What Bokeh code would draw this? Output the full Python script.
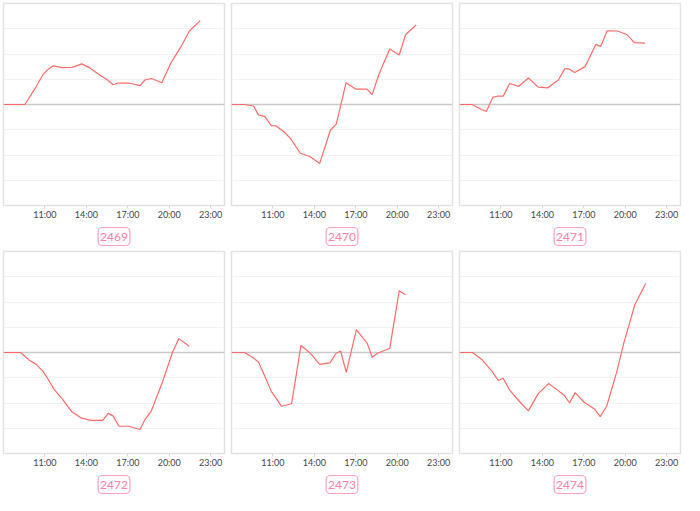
from bokeh.plotting import figure
from bokeh.layouts import gridplot
from bokeh.models import Span, FixedTicker, Title, Range1d, Grid
from bokeh.embed import file_html
from bokeh.resources import INLINE

# ---- data (hours of day, relative change) ----
names = ["2469", "2470", "2471", "2472", "2473", "2474"]

t_2469 = [8.0, 9.55, 10.37, 10.84, 11.2, 11.6, 12.25, 12.96, 13.66, 14.25, 15.07, 15.54,
          15.94, 16.29, 17.07, 17.89, 18.24, 18.71, 19.46, 20.12, 20.83, 21.46, 22.24]
v_2469 = [0, 0, 0.71, 1.17, 1.38, 1.53, 1.46, 1.47, 1.61, 1.45, 1.13, 0.97,
          0.78, 0.85, 0.85, 0.75, 0.97, 1.03, 0.86, 1.64, 2.27, 2.91, 3.32]

t_2470 = [8.0, 8.9, 9.6, 9.95, 10.42, 10.88, 11.23, 11.82, 12.28, 12.98, 13.68, 14.38,
          15.15, 15.59, 16.29, 16.99, 17.81, 18.18, 18.69, 19.46, 20.14, 20.6, 21.37]
v_2470 = [0, 0, -0.06, -0.41, -0.48, -0.84, -0.85, -1.09, -1.35, -1.93, -2.06, -2.34,
          -1.03, -0.77, 0.86, 0.61, 0.61, 0.39, 1.22, 2.2, 1.96, 2.76, 3.15]

t_2471 = [8.0, 8.89, 9.59, 9.95, 10.41, 10.77, 11.16, 11.63, 12.29, 12.99, 13.7, 14.4,
          15.15, 15.62, 15.92, 16.34, 17.09, 17.87, 18.22, 18.69, 19.44, 20.14, 20.66, 21.43]
v_2471 = [0, 0, -0.2, -0.27, 0.28, 0.33, 0.33, 0.83, 0.72, 1.05, 0.69, 0.66,
          0.97, 1.41, 1.41, 1.27, 1.5, 2.38, 2.3, 2.92, 2.91, 2.76, 2.45, 2.43]

t_2472 = [8.0, 9.24, 9.9, 10.37, 10.84, 11.19, 11.66, 12.24, 12.95, 13.65, 14.36, 15.18,
          15.58, 15.93, 16.35, 17.06, 17.88, 18.23, 18.7, 19.53, 20.23, 20.7, 21.45]
v_2472 = [0, 0, -0.32, -0.47, -0.74, -1.02, -1.46, -1.83, -2.35, -2.6, -2.69, -2.69,
          -2.41, -2.51, -2.92, -2.92, -3.05, -2.67, -2.32, -1.14, 0, 0.55, 0.25]

t_2473 = [8.0, 8.95, 9.6, 9.95, 10.42, 10.88, 11.63, 12.35, 13.03, 13.73, 14.38, 15.13,
          15.55, 15.9, 16.31, 17.04, 17.83, 18.18, 18.58, 19.46, 20.14, 20.6]
v_2473 = [0, 0, -0.22, -0.38, -0.95, -1.54, -2.13, -2.03, 0.28, -0.04, -0.47, -0.41,
          -0.04, 0.06, -0.79, 0.91, 0.36, -0.19, -0.03, 0.17, 2.44, 2.29]

t_2474 = [8.0, 8.94, 9.64, 10.34, 10.81, 11.16, 11.63, 12.34, 12.99, 13.7, 14.45, 15.03,
          15.57, 15.97, 16.37, 17.02, 17.8, 18.19, 18.66, 19.37, 19.9, 20.7, 21.48]
v_2474 = [0, 0, -0.29, -0.74, -1.11, -1.02, -1.49, -1.94, -2.31, -1.63, -1.23, -1.46,
          -1.69, -2.0, -1.59, -1.97, -2.25, -2.54, -2.12, -0.8, 0.38, 1.9, 2.73]

tick_hours = [11, 14, 17, 20, 23]
tick_labels = ["11:00", "14:00", "17:00", "20:00", "23:00"]
y_grid_ticks = [-3, -2, -1, 1, 2, 3]

series = [(names[0], t_2469, v_2469), (names[1], t_2470, v_2470), (names[2], t_2471, v_2471),
          (names[3], t_2472, v_2472), (names[4], t_2473, v_2473), (names[5], t_2474, v_2474)]

FONT = "Lato"


def panel(name, t, v):
    p = figure(frame_width=221, frame_height=202,
               x_range=Range1d(8, 24), y_range=Range1d(-4, 4),
               output_backend="svg", toolbar_location=None,
               y_axis_location=None,
               min_border_left=3, min_border_right=4, min_border_top=3, min_border_bottom=0)
    p.outline_line_color = "#e2e2e2"
    p.outline_line_width = 1.5
    p.background_fill_color = "white"
    p.border_fill_color = "white"
    for g in p.xgrid:
        g.grid_line_color = None
    for g in p.ygrid:
        g.grid_line_color = None
    p.add_layout(Grid(dimension=1, ticker=FixedTicker(ticks=y_grid_ticks),
                      grid_line_color="#f3f3f3", grid_line_width=1))
    p.add_layout(Span(location=0, dimension="width", line_color="#c9c9c9",
                      line_width=1.5, level="underlay"))
    p.line(t, v, line_color="#ff6b6b", line_width=1.2)

    ax = p.xaxis[0]
    ax.ticker = FixedTicker(ticks=tick_hours)
    ax.major_label_overrides = {h: l for h, l in zip(tick_hours, tick_labels)}
    ax.axis_line_color = None
    ax.major_tick_line_color = "#d8d8d8"
    ax.major_tick_out = 3
    ax.major_tick_in = 0
    ax.minor_tick_line_color = None
    ax.major_label_standoff = 0
    ax.major_label_text_font = FONT
    ax.major_label_text_font_size = "9px"
    ax.major_label_text_color = "#444444"

    p.add_layout(Title(text=name, align="center", text_color="#ff80a4",
                       text_font=FONT, text_font_size="12px", text_font_style="normal",
                       border_line_color="#ffa0bc", border_line_width=1.2,
                       border_radius=4, padding=(2, 5), background_fill_color="white",
                       standoff=6), "below")
    return p


plots = [panel(n, t, v) for n, t, v in series]
grid = gridplot([plots[0:3], plots[3:6]], toolbar_location=None)

open("out.html", "w").write(file_html(grid, INLINE))
